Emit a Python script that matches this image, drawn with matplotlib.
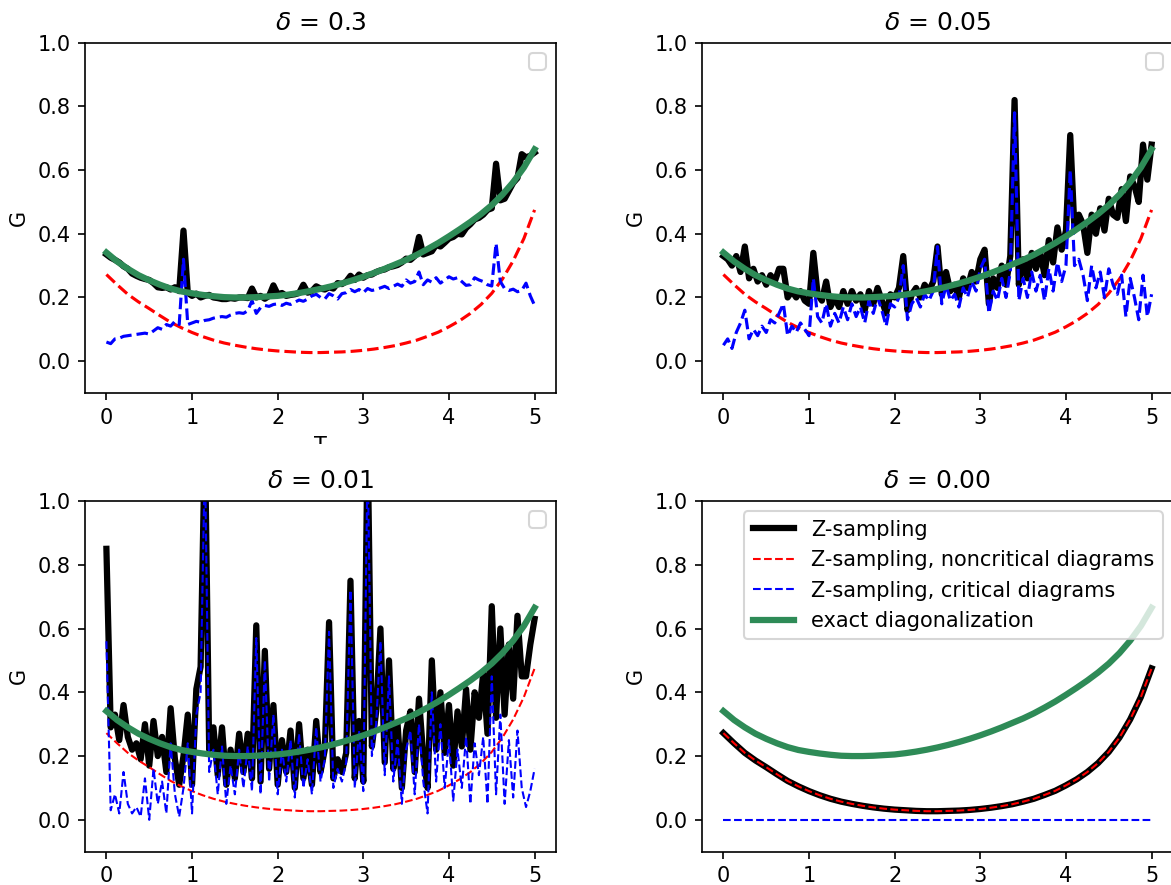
import numpy as np
import matplotlib
matplotlib.use("Agg")
import matplotlib.pyplot as plt
from matplotlib.transforms import Bbox, TransformedBbox

# ---------------- data ----------------
T_smooth = np.linspace(0, 5, 41)      # step 0.125
T_noisy = np.linspace(0, 5, 101)      # step 0.05

exact_diag = [0.341, 0.313, 0.290, 0.270, 0.254, 0.240, 0.228, 0.219, 0.213, 0.208,
              0.204, 0.201, 0.200, 0.200, 0.201, 0.203, 0.205, 0.209, 0.214, 0.220,
              0.227, 0.235, 0.244, 0.254, 0.265, 0.277, 0.290, 0.304, 0.318, 0.334,
              0.352, 0.371, 0.392, 0.414, 0.437, 0.462, 0.490, 0.523, 0.562, 0.608, 0.665]

noncritical = [0.272, 0.240, 0.210, 0.186, 0.165, 0.143, 0.122, 0.105, 0.090, 0.077,
               0.066, 0.057, 0.050, 0.044, 0.039, 0.035, 0.032, 0.030, 0.028, 0.027,
               0.027, 0.028, 0.029, 0.031, 0.034, 0.038, 0.043, 0.049, 0.057, 0.066,
               0.078, 0.091, 0.108, 0.127, 0.150, 0.178, 0.213, 0.258, 0.315, 0.385, 0.475]

# delta = 0.3
zsamp_03 = [0.335, 0.325, 0.318, 0.310, 0.298, 0.290, 0.275, 0.268, 0.262, 0.258,
            0.255, 0.245, 0.232, 0.230, 0.232, 0.225, 0.232, 0.220, 0.410, 0.215,
            0.205, 0.212, 0.200, 0.205, 0.208, 0.200, 0.198, 0.195, 0.195, 0.198,
            0.196, 0.200, 0.200, 0.198, 0.228, 0.200, 0.205, 0.196, 0.205, 0.238,
            0.210, 0.214, 0.205, 0.208, 0.210, 0.214, 0.240, 0.215, 0.220, 0.235,
            0.228, 0.225, 0.232, 0.228, 0.245, 0.242, 0.250, 0.268, 0.255, 0.272,
            0.262, 0.270, 0.272, 0.280, 0.285, 0.288, 0.295, 0.298, 0.302, 0.310,
            0.322, 0.318, 0.330, 0.390, 0.335, 0.340, 0.345, 0.365, 0.360, 0.372,
            0.385, 0.390, 0.400, 0.398, 0.418, 0.430, 0.445, 0.450, 0.460, 0.475,
            0.480, 0.620, 0.505, 0.510, 0.535, 0.560, 0.575, 0.650, 0.640, 0.645, 0.655]
crit_03 = [0.060, 0.055, 0.070, 0.072, 0.078, 0.080, 0.082, 0.084, 0.086, 0.088,
           0.085, 0.095, 0.105, 0.100, 0.115, 0.110, 0.125, 0.115, 0.320, 0.115,
           0.120, 0.125, 0.122, 0.128, 0.130, 0.135, 0.138, 0.140, 0.138, 0.145,
           0.150, 0.152, 0.150, 0.158, 0.190, 0.150, 0.168, 0.175, 0.172, 0.178,
           0.180, 0.175, 0.182, 0.178, 0.185, 0.192, 0.188, 0.195, 0.205, 0.210,
           0.200, 0.195, 0.212, 0.205, 0.195, 0.212, 0.215, 0.225, 0.218, 0.225,
           0.215, 0.228, 0.222, 0.225, 0.230, 0.235, 0.228, 0.235, 0.242, 0.235,
           0.255, 0.245, 0.250, 0.280, 0.240, 0.255, 0.248, 0.262, 0.245, 0.255,
           0.265, 0.258, 0.262, 0.250, 0.238, 0.240, 0.262, 0.255, 0.250, 0.240,
           0.236, 0.370, 0.250, 0.228, 0.222, 0.226, 0.218, 0.222, 0.245, 0.205, 0.175]

# delta = 0.05
zsamp_005 = [0.33, 0.32, 0.30, 0.33, 0.28, 0.36, 0.26, 0.29, 0.25, 0.27,
             0.24, 0.27, 0.25, 0.29, 0.29, 0.20, 0.22, 0.20, 0.22, 0.19,
             0.18, 0.34, 0.21, 0.19, 0.25, 0.17, 0.20, 0.17, 0.22, 0.18,
             0.22, 0.19, 0.21, 0.16, 0.22, 0.18, 0.23, 0.19, 0.15, 0.21,
             0.20, 0.23, 0.33, 0.16, 0.21, 0.23, 0.20, 0.24, 0.22, 0.25,
             0.36, 0.21, 0.28, 0.22, 0.24, 0.20, 0.26, 0.23, 0.28, 0.25,
             0.32, 0.35, 0.18, 0.26, 0.23, 0.30, 0.24, 0.33, 0.82, 0.24,
             0.32, 0.26, 0.34, 0.29, 0.34, 0.27, 0.38, 0.31, 0.42, 0.35,
             0.41, 0.71, 0.41, 0.46, 0.43, 0.34, 0.46, 0.40, 0.48, 0.41,
             0.51, 0.46, 0.45, 0.54, 0.44, 0.58, 0.55, 0.50, 0.68, 0.57, 0.68]
crit_005 = [0.05, 0.07, 0.04, 0.09, 0.12, 0.16, 0.07, 0.10, 0.08, 0.11,
            0.09, 0.13, 0.12, 0.15, 0.18, 0.08, 0.11, 0.09, 0.12, 0.10,
            0.08, 0.26, 0.14, 0.12, 0.18, 0.11, 0.15, 0.12, 0.17, 0.13,
            0.18, 0.14, 0.17, 0.12, 0.19, 0.15, 0.20, 0.16, 0.11, 0.18,
            0.17, 0.20, 0.30, 0.13, 0.18, 0.20, 0.17, 0.21, 0.19, 0.22,
            0.36, 0.18, 0.24, 0.19, 0.21, 0.17, 0.23, 0.20, 0.25, 0.22,
            0.29, 0.32, 0.15, 0.22, 0.19, 0.26, 0.20, 0.28, 0.78, 0.19,
            0.26, 0.20, 0.28, 0.22, 0.27, 0.19, 0.29, 0.22, 0.31, 0.25,
            0.30, 0.60, 0.30, 0.32, 0.27, 0.19, 0.30, 0.23, 0.28, 0.20,
            0.29, 0.24, 0.21, 0.27, 0.14, 0.26, 0.20, 0.13, 0.27, 0.14, 0.21]

# delta = 0.01
zsamp_001 = [0.85, 0.29, 0.33, 0.25, 0.36, 0.26, 0.22, 0.24, 0.19, 0.30,
             0.17, 0.31, 0.20, 0.26, 0.15, 0.35, 0.19, 0.11, 0.20, 0.33,
             0.11, 0.41, 0.48, 1.20, 0.22, 0.29, 0.14, 0.29, 0.11, 0.22,
             0.13, 0.27, 0.15, 0.27, 0.13, 0.61, 0.12, 0.53, 0.16, 0.36,
             0.11, 0.25, 0.15, 0.28, 0.10, 0.30, 0.13, 0.22, 0.11, 0.31,
             0.15, 0.22, 0.62, 0.13, 0.19, 0.15, 0.21, 0.75, 0.13, 0.31,
             0.12, 1.20, 0.23, 0.34, 0.60, 0.18, 0.50, 0.16, 0.30, 0.10,
             0.28, 0.34, 0.15, 0.38, 0.20, 0.10, 0.50, 0.22, 0.40, 0.21,
             0.36, 0.17, 0.34, 0.23, 0.41, 0.22, 0.40, 0.32, 0.46, 0.27,
             0.67, 0.32, 0.60, 0.33, 0.55, 0.38, 0.64, 0.45, 0.45, 0.55, 0.63]
crit_001 = [0.56, 0.03, 0.08, 0.02, 0.15, 0.05, 0.02, 0.04, 0.01, 0.13,
            0.00, 0.16, 0.05, 0.12, 0.02, 0.24, 0.08, 0.01, 0.10, 0.24,
            0.02, 0.33, 0.40, 1.15, 0.15, 0.22, 0.08, 0.23, 0.05, 0.17,
            0.08, 0.22, 0.10, 0.23, 0.09, 0.57, 0.08, 0.50, 0.12, 0.33,
            0.08, 0.22, 0.12, 0.25, 0.07, 0.27, 0.10, 0.19, 0.08, 0.29,
            0.12, 0.19, 0.59, 0.10, 0.16, 0.12, 0.18, 0.72, 0.10, 0.28,
            0.09, 1.15, 0.20, 0.30, 0.56, 0.14, 0.45, 0.12, 0.25, 0.05,
            0.22, 0.28, 0.08, 0.30, 0.12, 0.02, 0.40, 0.12, 0.30, 0.10,
            0.25, 0.06, 0.22, 0.10, 0.26, 0.05, 0.24, 0.14, 0.26, 0.05,
            0.45, 0.08, 0.33, 0.05, 0.25, 0.07, 0.28, 0.10, 0.04, 0.09, 0.16]

# delta = 0.00
zsamp_000 = noncritical
crit_000 = [0.0] * len(T_smooth)

titles = [r"$\delta$ = 0.3", r"$\delta$ = 0.05", r"$\delta$ = 0.01", r"$\delta$ = 0.00"]
labels = ["Z-sampling", "Z-sampling, noncritical diagrams",
          "Z-sampling, critical diagrams", "exact diagonalization"]

# ---------------- figure ----------------
W, H = 1171, 885
DPI = 150
fig = plt.figure(figsize=(W / DPI, H / DPI), dpi=DPI)


def px_axes(left, top, width, height):
    return fig.add_axes([left / W, (H - top - height) / H, width / W, height / H])


ax1 = px_axes(85, 42.7, 471, 350.3)
ax2 = px_axes(702, 42.7, 471, 350.3)
ax3 = px_axes(85, 501, 471, 350.7)
ax4 = px_axes(702, 501, 471, 350.7)

panels = [
    (ax1, titles[0], T_noisy, zsamp_03, T_noisy, crit_03, 1.5),
    (ax2, titles[1], T_noisy, zsamp_005, T_noisy, crit_005, 1.5),
    (ax3, titles[2], T_noisy, zsamp_001, T_noisy, crit_001, 1.0),
    (ax4, titles[3], T_smooth, zsamp_000, T_smooth, crit_000, 1.0),
]

for ax, title, tz, zs, tc, cr, dlw in panels:
    ax.plot(tz, zs, color="black", lw=3, label=labels[0])
    ax.plot(T_smooth, noncritical, color="red", ls="--", lw=dlw, label=labels[1])
    ax.plot(tc, cr, color="blue", ls="--", lw=dlw, label=labels[2])
    ax.plot(T_smooth, exact_diag, color="seagreen", lw=3, label=labels[3])
    ax.set_title(title)
    ax.set_ylabel("G")
    ax.set_ylim(-0.1, 1.0)
    ax.set_xlim(-0.25, 5.25)
    ax.set_xticks([0, 1, 2, 3, 4, 5])
    ax.set_yticks([0.0, 0.2, 0.4, 0.6, 0.8, 1.0])

for ax in (ax1, ax2, ax3):
    ax.legend(handles=[], loc="upper right")
ax4.legend(loc="upper right")

# x label of the first panel, mostly hidden in the reference
ax1.set_xlabel("T")
clip = TransformedBbox(Bbox.from_extents(0, (H - 444) / H, 1, 1), fig.transFigure)
ax1.xaxis.label.set_clip_box(clip)
ax1.xaxis.label.set_clip_on(True)

fig.savefig("out.png", dpi=DPI)
